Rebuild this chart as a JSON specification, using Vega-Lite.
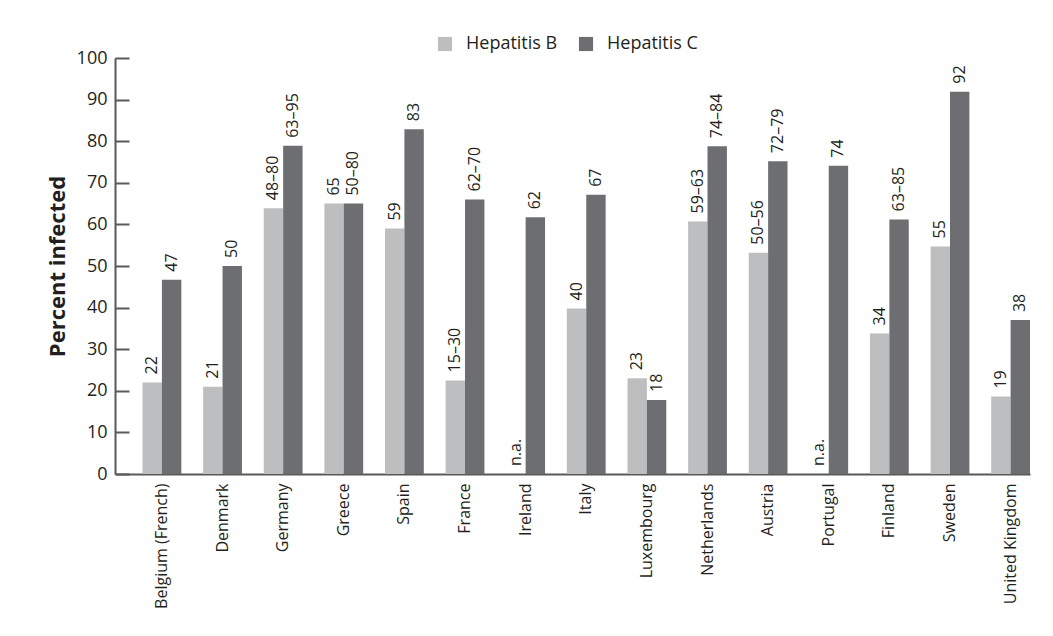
{
  "$schema": "https://vega.github.io/schema/vega-lite/v6.json",
  "width": 915,
  "height": 416,
  "autosize": "none",
  "padding": {"left": 115, "top": 58, "right": 23, "bottom": 162},
  "background": "white",
  "config": {"view": {"stroke": null}},
  "data": {
    "values": [
      {"country": "Belgium (French)", "series": "Hepatitis B", "value": 22, "label": "22"},
      {"country": "Belgium (French)", "series": "Hepatitis C", "value": 46.7, "label": "47"},
      {"country": "Denmark", "series": "Hepatitis B", "value": 21, "label": "21"},
      {"country": "Denmark", "series": "Hepatitis C", "value": 50, "label": "50"},
      {"country": "Germany", "series": "Hepatitis B", "value": 63.9, "label": "48–80"},
      {"country": "Germany", "series": "Hepatitis C", "value": 78.9, "label": "63–95"},
      {"country": "Greece", "series": "Hepatitis B", "value": 65, "label": "65"},
      {"country": "Greece", "series": "Hepatitis C", "value": 65, "label": "50–80"},
      {"country": "Spain", "series": "Hepatitis B", "value": 59, "label": "59"},
      {"country": "Spain", "series": "Hepatitis C", "value": 82.9, "label": "83"},
      {"country": "France", "series": "Hepatitis B", "value": 22.5, "label": "15–30"},
      {"country": "France", "series": "Hepatitis C", "value": 66, "label": "62–70"},
      {"country": "Ireland", "series": "Hepatitis B", "value": null, "label": "n.a."},
      {"country": "Ireland", "series": "Hepatitis C", "value": 61.7, "label": "62"},
      {"country": "Italy", "series": "Hepatitis B", "value": 39.8, "label": "40"},
      {"country": "Italy", "series": "Hepatitis C", "value": 67.1, "label": "67"},
      {"country": "Luxembourg", "series": "Hepatitis B", "value": 23, "label": "23"},
      {"country": "Luxembourg", "series": "Hepatitis C", "value": 17.8, "label": "18"},
      {"country": "Netherlands", "series": "Hepatitis B", "value": 60.7, "label": "59–63"},
      {"country": "Netherlands", "series": "Hepatitis C", "value": 78.8, "label": "74–84"},
      {"country": "Austria", "series": "Hepatitis B", "value": 53.2, "label": "50–56"},
      {"country": "Austria", "series": "Hepatitis C", "value": 75.2, "label": "72–79"},
      {"country": "Portugal", "series": "Hepatitis B", "value": null, "label": "n.a."},
      {"country": "Portugal", "series": "Hepatitis C", "value": 74.1, "label": "74"},
      {"country": "Finland", "series": "Hepatitis B", "value": 33.8, "label": "34"},
      {"country": "Finland", "series": "Hepatitis C", "value": 61.2, "label": "63–85"},
      {"country": "Sweden", "series": "Hepatitis B", "value": 54.7, "label": "55"},
      {"country": "Sweden", "series": "Hepatitis C", "value": 91.9, "label": "92"},
      {"country": "United Kingdom", "series": "Hepatitis B", "value": 18.6, "label": "19"},
      {"country": "United Kingdom", "series": "Hepatitis C", "value": 37, "label": "38"}
    ]
  },
  "transform": [
    {"calculate": "datum.value == null ? 0 : datum.value", "as": "labelPos"}
  ],
  "encoding": {
    "x": {
      "field": "country",
      "type": "nominal",
      "sort": ["Belgium (French)", "Denmark", "Germany", "Greece", "Spain", "France", "Ireland", "Italy", "Luxembourg", "Netherlands", "Austria", "Portugal", "Finland", "Sweden", "United Kingdom"],
      "scale": {"paddingInner": 0.36, "paddingOuter": 0.227, "align": 1},
      "axis": {
        "title": null,
        "labelAngle": -90,
        "labelFont": "Open Sans",
        "labelFontSize": 16,
        "labelColor": "#231f20",
        "labelPadding": 9,
        "ticks": false,
        "domainColor": "#58595b",
        "domainWidth": 2
      }
    },
    "xOffset": {"field": "series", "type": "nominal", "sort": ["Hepatitis B", "Hepatitis C"]}
  },
  "layer": [
    {
      "mark": {"type": "bar"},
      "encoding": {
        "y": {
          "field": "value",
          "type": "quantitative",
          "scale": {"domain": [0, 100]},
          "axis": {
            "title": "Percent infected",
            "titleFont": "Open Sans",
            "titleFontSize": 22,
            "titleFontWeight": "bold",
            "titleColor": "#231f20",
            "titlePadding": 7,
            "values": [0, 10, 20, 30, 40, 50, 60, 70, 80, 90, 100],
            "grid": false,
            "tickSize": -14,
            "tickWidth": 2,
            "tickColor": "#58595b",
            "domainColor": "#58595b",
            "domainWidth": 2,
            "labelFont": "Open Sans",
            "labelFontSize": 18,
            "labelColor": "#231f20",
            "labelPadding": 22
          }
        },
        "color": {
          "field": "series",
          "type": "nominal",
          "scale": {"domain": ["Hepatitis B", "Hepatitis C"], "range": ["#bcbec0", "#6d6e71"]},
          "legend": {
            "orient": "none",
            "legendX": 321,
            "legendY": -23,
            "direction": "horizontal",
            "title": null,
            "symbolType": "square",
            "symbolSize": 200,
            "symbolStrokeWidth": 0,
            "labelFont": "Open Sans",
            "labelFontSize": 18,
            "labelColor": "#231f20",
            "labelOffset": 12,
            "columnPadding": 19
          }
        }
      }
    },
    {
      "mark": {"type": "text", "angle": 270, "align": "left", "baseline": "middle", "dx": 8, "font": "Open Sans", "fontSize": 16, "color": "#231f20"},
      "encoding": {
        "y": {"field": "labelPos", "type": "quantitative"},
        "text": {"field": "label"}
      }
    }
  ]
}
